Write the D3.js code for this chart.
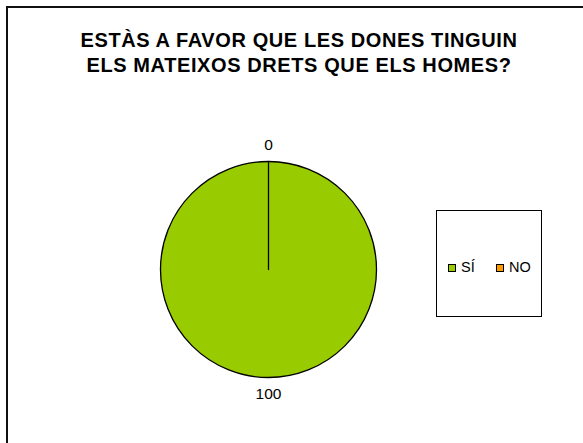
<!DOCTYPE html>
<html>
<head>
<meta charset="utf-8">
<script src="https://cdn.jsdelivr.net/npm/d3@7"></script>
<style>
  body { margin: 0; background: #fff; }
  svg { display: block; font-family: "Liberation Sans", Arial, sans-serif; }
</style>
</head>
<body>
<svg id="chart"></svg>
<script>
// data
const categories = ["SÍ", "NO"];
const values = [100, 0];
const colors = ["#99CC00", "#FF9900"];
const titleLines = ["ESTÀS A FAVOR QUE LES DONES TINGUIN", "ELS MATEIXOS DRETS QUE ELS HOMES?"];

const outWidth = 583, outHeight = 443;
const cx = 268.5, cy = 269.5, radius = 108;

const svg = d3.select("#chart")
    .attr("width", outWidth)
    .attr("height", outHeight);

// outer frame (right/bottom edges fall outside the picture)
svg.append("rect")
    .attr("x", 7).attr("y", 7)
    .attr("width", 640).attr("height", 500)
    .attr("fill", "#fff")
    .attr("stroke", "#111")
    .attr("stroke-width", 2);

// title
svg.append("g").selectAll("text")
    .data(titleLines)
    .enter().append("text")
    .attr("x", 299)
    .attr("y", (d, i) => 47.3 + i * 24.4)
    .attr("text-anchor", "middle")
    .attr("font-size", 20)
    .attr("letter-spacing", 0.6)
    .attr("font-weight", "bold")
    .attr("fill", "#000")
    .text(d => d);

const data = categories.map((c, i) => ({ name: c, value: values[i], color: colors[i] }));

const pie = d3.pie()
    .value(d => d.value)
    .sort(null);

const arc = d3.arc()
    .innerRadius(0)
    .outerRadius(radius);

const labelArc = d3.arc()
    .innerRadius(radius + 16.5)
    .outerRadius(radius + 16.5);

const g = svg.append("g")
    .attr("transform", "translate(" + cx + "," + cy + ")");

const arcs = pie(data);

g.selectAll("path")
    .data(arcs)
    .enter().append("path")
    .attr("d", arc)
    .attr("fill", d => d.data.color)
    .attr("stroke", "#000")
    .attr("stroke-width", 1.3)
    .attr("stroke-linejoin", "round");

g.selectAll("text")
    .data(arcs)
    .enter().append("text")
    .attr("transform", d => "translate(" + labelArc.centroid(d) + ")")
    .attr("text-anchor", "middle")
    .attr("dy", "0.3em")
    .attr("font-size", 15.5)
    .attr("fill", "#000")
    .text(d => d.data.value);

// legend
const legend = svg.append("g")
    .attr("transform", "translate(436,210)");

legend.append("rect")
    .attr("x", 0.5).attr("y", 0.5)
    .attr("width", 105).attr("height", 106)
    .attr("fill", "#fff")
    .attr("stroke", "#000")
    .attr("stroke-width", 1);

const items = legend.selectAll("g.item")
    .data(data)
    .enter().append("g")
    .attr("class", "item")
    .attr("transform", (d, i) => "translate(" + (12.5 + i * 48) + ",54.5)");

items.append("rect")
    .attr("x", 0).attr("y", 0)
    .attr("width", 7).attr("height", 7)
    .attr("fill", d => d.color)
    .attr("stroke", "#000")
    .attr("stroke-width", 1);

items.append("text")
    .attr("x", 12.5)
    .attr("y", 7.8)
    .attr("font-size", 14.5)
    .attr("fill", "#000")
    .text(d => d.name);
</script>
</body>
</html>
